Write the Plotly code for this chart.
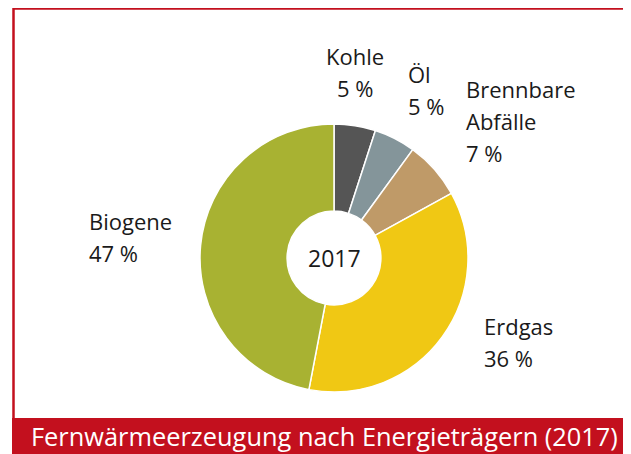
import plotly.graph_objects as go

# Fernwärmeerzeugung nach Energieträgern 2017 (Anteile in %)
traeger = ["Kohle", "Öl", "Brennbare Abfälle", "Erdgas", "Biogene"]
anteile = [5, 5, 7, 36, 47]
farben = ["#555555", "#84959a", "#bf9a68", "#f0c814", "#a8b232"]
jahr = "2017"
titel = "Fernwärmeerzeugung nach Energieträgern (2017)"

# the page body has an 8px margin, so the figure is 8px smaller than the window
W, H = 623, 446
OFF = 8
red = "#c3101e"
font = "Open Sans"


def px(x, y):
    # window pixel -> paper coords
    return (x - OFF) / W, 1 - (y - OFF) / H


cx, cy, r = 334, 258, 134
x0, y0 = px(cx - r, cy + r)
x1, y1 = px(cx + r, cy - r)

fig = go.Figure(go.Pie(
    labels=traeger,
    values=anteile,
    marker=dict(colors=farben, line=dict(color="white", width=1.5)),
    hole=0.35,
    sort=False,
    direction="clockwise",
    rotation=0,
    textinfo="none",
    hoverinfo="label+percent",
    domain=dict(x=[x0, x1], y=[y0, y1]),
    showlegend=False,
))

# Beschriftungen: (x, y der ersten Zeile, Ausrichtung)
label_pos = [(355, 56, "center"), (406, 74, "left"), (464, 89, "left"),
             (482, 326, "left"), (87, 221, "left")]
line_gap = 32
for name, wert, (lx, ly, al) in zip(traeger, anteile, label_pos):
    lines = name.split(" ") + [f"{wert} %"]
    for i, t in enumerate(lines):
        ax, ay = px(lx, ly + i * line_gap)
        fig.add_annotation(
            x=ax, y=ay, xref="paper", yref="paper",
            xanchor=al, yanchor="middle", showarrow=False, text=t,
            font=dict(family=font, size=22, color="#1a1a1a"),
        )

ax, ay = px(cx, cy)
fig.add_annotation(x=ax, y=ay, xref="paper", yref="paper",
                   showarrow=False, text=jahr,
                   font=dict(family=font, size=23, color="#1a1a1a"))

# roter Rahmen und Titelbalken
fx0, _ = px(13.5, 0)
_, fy1 = px(0, 8.5)
fig.add_shape(type="rect", xref="paper", yref="paper",
              x0=fx0, x1=1.02, y0=-0.02, y1=fy1,
              line=dict(color=red, width=2.5), fillcolor="rgba(0,0,0,0)")
bx0, by1 = px(12, 418)
fig.add_shape(type="rect", xref="paper", yref="paper",
              x0=bx0, x1=1.02, y0=-0.02, y1=by1,
              line=dict(width=0), fillcolor=red)
tx, ty = px(29, 436)
fig.add_annotation(x=tx, y=ty, xref="paper", yref="paper",
                   xanchor="left", yanchor="middle", showarrow=False,
                   text=titel, font=dict(family=font, size=25.4, color="white"))

fig.update_layout(
    width=W, height=H,
    margin=dict(l=0, r=0, t=0, b=0),
    paper_bgcolor="white",
    plot_bgcolor="white",
)

fig.write_html("out.html")
